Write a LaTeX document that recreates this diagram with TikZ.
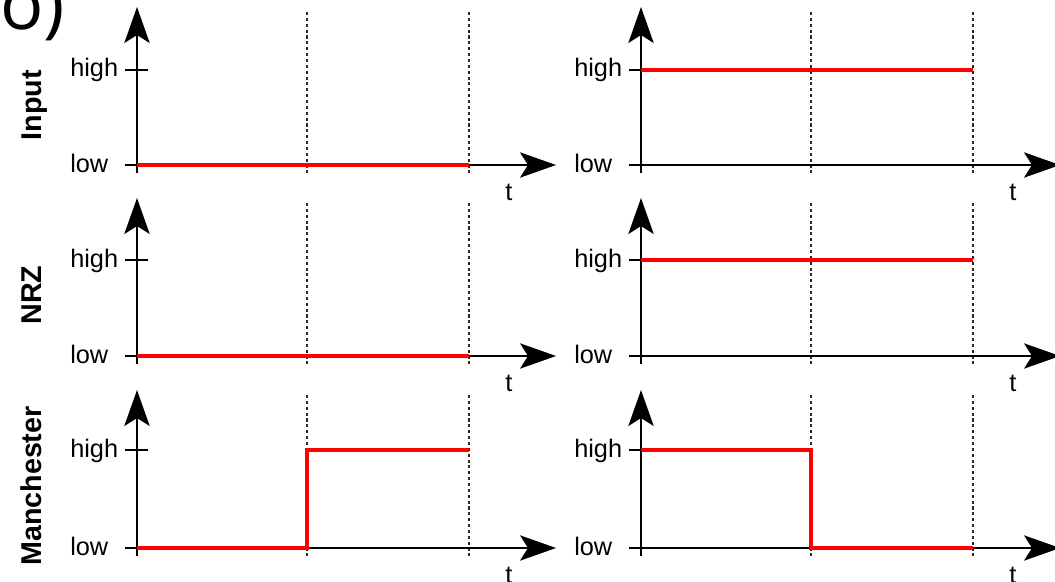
\documentclass[tikz,border=0pt]{standalone}
\usepackage{fontspec}
\setmainfont{Liberation Sans}
\newfontfamily\tagfont{Open Sans}
\usetikzlibrary{arrows.meta,positioning}

\definecolor{sigred}{RGB}{255,0,0}
\definecolor{gridgray}{RGB}{40,40,40}

\tikzset{
  axis/.style={line width=1.5pt, draw=black},
  tip/.style={-{Stealth[length=27pt,width=19pt,inset=6pt]}},
  sig/.style={line width=2.7pt, draw=sigred},
  grid/.style={line width=1.7pt, draw=gridgray, dash pattern=on 2.3pt off 2.1pt},
  lvl/.style={font=\fontsize{19}{21}\selectfont, inner sep=0pt, anchor=base west},
  rowlbl/.style={font=\bfseries\fontsize{21.5}{24}\selectfont, rotate=90, inner sep=0pt, anchor=base}
}

\begin{document}
\begin{tikzpicture}[x=0.75pt,y=-0.75pt]
\useasboundingbox (0,0) rectangle (1055,581);

\node[inner sep=0pt, anchor=base west, font=\tagfont\fontsize{54}{56}\selectfont] (tag) at (0,30) {o)};

% row titles
\node[rowlbl] (input) at (41,105) {Input};
\node[rowlbl] (nrz) at (41,295) {NRZ};
\node[rowlbl] (manch) at (41,486) {Manchester};

% axes, ticks and bit borders of the six panels
\foreach \r/\lo/\hi in {1/165/70, 2/356/260, 3/548/450}{
  \foreach \c/\ax in {L/137, R/641}{
    \coordinate (o\r\c) at (\ax,\lo);
    \coordinate (h\r\c) at (\ax,\hi);
    \coordinate (ybot\r\c) at (\ax,\lo+8);
    \coordinate (ytop\r\c) at (\ax,\lo-158);
    \coordinate (xbeg\r\c) at (\ax-12,\lo);
    \coordinate (xend\r\c) at (\ax+419,\lo);
    \coordinate (tl\r\c) at (\ax-12,\hi);
    \coordinate (tr\r\c) at (\ax+11,\hi);
    \coordinate (a\r\c) at (\ax+170,\lo);
    \coordinate (b\r\c) at (\ax+332,\lo);
    \coordinate (atop\r\c) at (\ax+170,\lo-153);
    \coordinate (abot\r\c) at (\ax+170,\lo+11);
    \coordinate (btop\r\c) at (\ax+332,\lo-153);
    \coordinate (bbot\r\c) at (\ax+332,\lo+11);

    \draw[grid] (atop\r\c) -- (abot\r\c);
    \draw[grid] (btop\r\c) -- (bbot\r\c);
    \draw[axis,tip] (ybot\r\c) -- (ytop\r\c);
    \draw[axis,tip] (xbeg\r\c) -- (xend\r\c);
    \draw[axis] (tl\r\c) -- (tr\r\c);

    \node[lvl] (hi\r\c) at (\ax-67,\hi+7) {high};
    \node[lvl] (lo\r\c) at (\ax-67,\lo+7) {low};
    \node[lvl, anchor=base] (t\r\c) at (\ax+372,\lo+35) {t};
  }
}

% signals
\draw[sig] (o1L) -- (b1L);
\draw[sig] (h1R) -- (b1R |- h1R);
\draw[sig] (o2L) -- (b2L);
\draw[sig] (h2R) -- (b2R |- h2R);
\draw[sig] (o3L) -- (a3L) -- (a3L |- h3L) -- (b3L |- h3L);
\draw[sig] (h3R) -- (a3R |- h3R) -- (a3R) -- (b3R);
\end{tikzpicture}
\end{document}
